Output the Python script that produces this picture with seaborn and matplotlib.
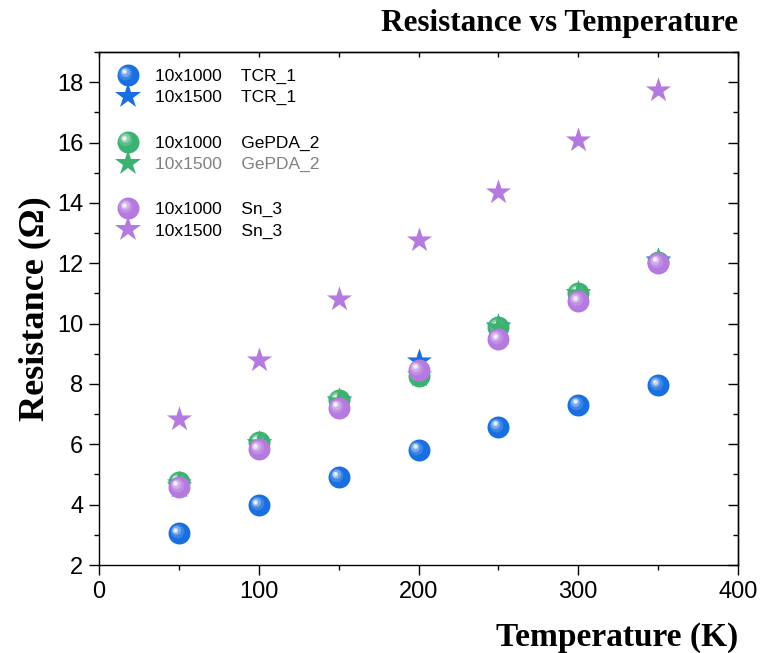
import numpy as np
import pandas as pd
import seaborn as sns
import matplotlib
matplotlib.use("Agg")
import matplotlib.pyplot as plt
from matplotlib.lines import Line2D
from matplotlib.legend_handler import HandlerBase
from matplotlib.transforms import offset_copy
from matplotlib.ticker import MultipleLocator
import matplotlib.colors as mcolors

# ---------------- data ----------------
temperature = [50, 100, 150, 200, 250, 300, 350]
tcr_1000 = [3.05, 3.98, 4.91, 5.82, 6.58, 7.30, 7.96]
tcr_1500 = [4.62, 6.05, 7.48, 8.76, 9.93, 11.02, 12.10]
ge_1000 = [4.75, 6.07, 7.46, 8.25, 9.88, 11.01, 12.05]
ge_1500 = [4.72, 6.05, 7.45, 8.28, 9.90, 11.00, 12.08]
sn_1000 = [4.59, 5.84, 7.21, 8.46, 9.48, 10.74, 12.01]
sn_1500 = [6.84, 8.79, 10.83, 12.76, 14.37, 16.09, 17.75]

series_labels = ["10x1000    TCR_1", "10x1500    TCR_1",
                 "10x1000    GePDA_2", "10x1500    GePDA_2",
                 "10x1000    Sn_3", "10x1500    Sn_3"]
series_values = [tcr_1000, tcr_1500, ge_1000, ge_1500, sn_1000, sn_1500]
series_colors = ["#1A6FE0", "#1A6FE0", "#3DB170", "#3DB170", "#B57ADF", "#B57ADF"]
series_markers = ["o", "*", "o", "*", "o", "*"]
draw_order = [0, 1, 3, 2, 5, 4]

x_ticks = [0, 100, 200, 300, 400]
y_ticks = [2, 4, 6, 8, 10, 12, 14, 16, 18]

rows = []
for lab, vals in zip(series_labels, series_values):
    for t, v in zip(temperature, vals):
        rows.append({"Temperature": t, "Resistance": v, "Series": lab})
df = pd.DataFrame(rows)

# ---------------- style ----------------
sns.set_theme(style="ticks")
plt.rcParams['font.family'] = ['Liberation Sans', 'DejaVu Sans']
plt.rcParams['axes.linewidth'] = 1.0
plt.rcParams['text.color'] = 'black'
plt.rcParams['axes.labelcolor'] = 'black'
plt.rcParams['axes.titlecolor'] = 'black'

fig = plt.figure(figsize=(7.63, 6.53), dpi=100)
ax = fig.add_axes([99 / 763, 1 - 565 / 653, (738 - 99) / 763, (565 - 52) / 653])

CIRCLE_S = 250
STAR_S = 360
HL = [(0.62, 0.18, 1.6), (0.42, 0.45, 2.2), (0.24, 0.8, 2.6), (0.12, 1.0, 2.7)]


def lighten(c, f):
    r, g, b = mcolors.to_rgb(c)
    return (r + (1 - r) * f, g + (1 - g) * f, b + (1 - b) * f)


for i in draw_order:
    lab = series_labels[i]
    sub = df[df["Series"] == lab]
    col = series_colors[i]
    mk = series_markers[i]
    if mk == "o":
        sns.scatterplot(data=sub, x="Temperature", y="Resistance", ax=ax,
                        color=col, marker="o", s=CIRCLE_S, linewidth=0,
                        legend=False, zorder=3 + i)
        for frac, f, off in HL:
            tr = offset_copy(ax.transData, fig=fig, x=-off, y=off, units='points')
            ax.scatter(sub["Temperature"], sub["Resistance"], s=CIRCLE_S * frac ** 2,
                       color=lighten(col, f), linewidth=0, transform=tr,
                       zorder=3 + i + 0.1, alpha=0.85)
    else:
        sns.scatterplot(data=sub, x="Temperature", y="Resistance", ax=ax,
                        color=col, marker="*", s=STAR_S, linewidth=0,
                        legend=False, zorder=3 + i)

ax.set_xlim(0, 400)
ax.set_ylim(2, 19)
ax.set_xticks(x_ticks)
ax.set_yticks(y_ticks)
ax.xaxis.set_minor_locator(MultipleLocator(50))
ax.yaxis.set_minor_locator(MultipleLocator(1))
ax.tick_params(axis='both', which='major', direction='out', length=7.2, width=1.0,
               labelsize=17, colors='black', pad=4)
ax.tick_params(axis='both', which='minor', direction='out', length=3.6, width=1.0,
               colors='black')
for s in ax.spines.values():
    s.set_visible(True)
    s.set_color('black')
    s.set_linewidth(1.0)

sec_x = ax.secondary_xaxis('top')
sec_x.set_xticks(x_ticks)
sec_x.xaxis.set_minor_locator(MultipleLocator(50))
sec_x.tick_params(which='both', direction='in', length=3.6, width=1.0, labeltop=False,
                  colors='black')
sec_y = ax.secondary_yaxis('right')
sec_y.set_yticks(y_ticks)
sec_y.yaxis.set_minor_locator(MultipleLocator(1))
sec_y.tick_params(which='major', direction='in', length=7.2, width=1.0, labelright=False,
                  colors='black')
sec_y.tick_params(which='minor', direction='in', length=3.6, width=1.0, colors='black')

serif = ['Liberation Serif', 'DejaVu Serif']
ax.set_xlabel("Temperature (K)", family=serif, fontweight='bold', fontsize=24,
              loc='right', labelpad=14, color='black')
ax.set_ylabel("Resistance (\u03a9)", family=serif, fontweight='bold', fontsize=26,
              labelpad=4, color='black')
ax.set_title("Resistance vs Temperature", family=serif, fontweight='bold',
             fontsize=22.5, loc='right', pad=15, color='black')


# ---------------- legend ----------------
class SphereHandler(HandlerBase):
    def create_artists(self, legend, orig_handle, xdescent, ydescent, width,
                       height, fontsize, trans):
        x = 0.5 * width - xdescent
        y = 0.5 * height - ydescent
        col = orig_handle.get_markerfacecolor()
        mk = orig_handle.get_marker()
        arts = []
        if mk == "o":
            d = np.sqrt(CIRCLE_S)
            arts.append(Line2D([x], [y], marker='o', markersize=d, color=col,
                               markeredgewidth=0, linestyle='none', transform=trans))
            for frac, f, off in HL:
                t2 = offset_copy(trans, fig=legend.figure, x=-off, y=off, units='points')
                arts.append(Line2D([x], [y], marker='o', markersize=d * frac,
                                   color=lighten(col, f), alpha=0.85,
                                   markeredgewidth=0, linestyle='none', transform=t2))
        elif mk == "*":
            arts.append(Line2D([x], [y], marker='*', markersize=np.sqrt(STAR_S),
                               color=col, markeredgewidth=0, linestyle='none',
                               transform=trans))
        else:
            arts.append(Line2D([x], [y], marker='', linestyle='none',
                               transform=trans, visible=False))
        return arts


handles, labels = [], []
blank_idx = []
for i in range(len(series_labels)):
    handles.append(Line2D([], [], marker=series_markers[i], color=series_colors[i],
                          markerfacecolor=series_colors[i], linestyle='none'))
    labels.append(series_labels[i])
    if i in (1, 3):
        handles.append(Line2D([], [], marker='', color='white', linestyle='none'))
        labels.append(" ")
        blank_idx.append(len(labels) - 1)

leg = ax.legend(handles, labels, loc='upper left', bbox_to_anchor=(0.004, 0.998),
                frameon=False, fontsize=12.5, handlelength=1.2, handletextpad=1.0,
                labelspacing=0.33, borderpad=0.6, borderaxespad=0.3,
                handler_map={Line2D: SphereHandler()})
texts = leg.get_texts()
for t in texts:
    t.set_color('black')
texts[4].set_color('#808080')
for b in blank_idx:
    texts[b].set_fontsize(14.3)

fig.savefig("out.png", dpi=100)
